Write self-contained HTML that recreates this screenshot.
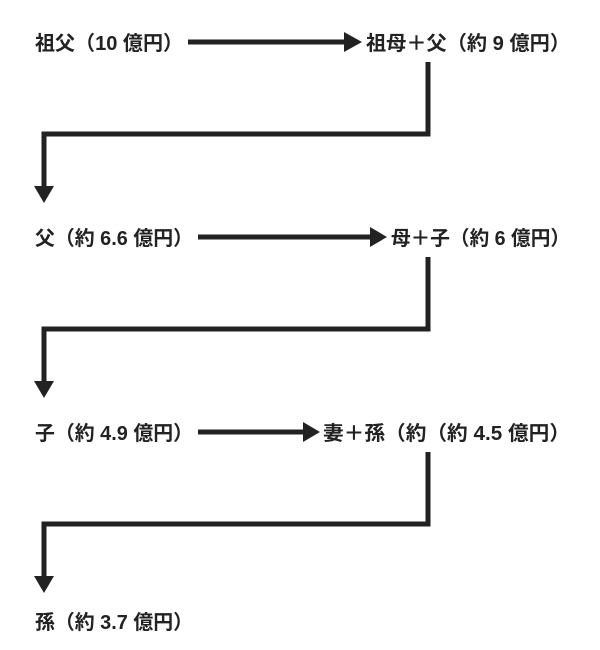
<!DOCTYPE html>
<html><head><meta charset="utf-8"><style>html,body{margin:0;padding:0;background:#fff}</style></head>
<body>
<svg width="600" height="645" viewBox="0 0 600 645" xmlns="http://www.w3.org/2000/svg">
<g font-family="'Liberation Sans','Noto Sans CJK JP',sans-serif" font-weight="bold" font-size="20" fill="#222">
<text x="35" y="50" textLength="148" lengthAdjust="spacingAndGlyphs">祖父（10 億円）</text>
<text x="366" y="50" textLength="204" lengthAdjust="spacingAndGlyphs">祖母＋父（約 9 億円）</text>
<text x="35" y="245" textLength="158" lengthAdjust="spacingAndGlyphs">父（約 6.6 億円）</text>
<text x="391" y="245" textLength="179" lengthAdjust="spacingAndGlyphs">母＋子（約 6 億円）</text>
<text x="35" y="440" textLength="158" lengthAdjust="spacingAndGlyphs">子（約 4.9 億円）</text>
<text x="323" y="440" textLength="247" lengthAdjust="spacingAndGlyphs">妻＋孫（約（約 4.5 億円）</text>
<text x="35" y="629" textLength="158" lengthAdjust="spacingAndGlyphs">孫（約 3.7 億円）</text>
</g>
<g fill="none" stroke="#222" stroke-width="5">
<line x1="188" y1="42" x2="346" y2="42"/>
<polyline points="428,62 428,134 44,134 44,188"/>
<line x1="198" y1="237" x2="372" y2="237"/>
<polyline points="428,257 428,329 44,329 44,383"/>
<line x1="198" y1="432" x2="305" y2="432"/>
<polyline points="428,452 428,524 44,524 44,578"/>
</g>
<g fill="#222">
<polygon points="344,32 362,42 344,52"/>
<polygon points="370,227 387,237 370,247"/>
<polygon points="303,422 320,432 303,442"/>
<polygon points="34,186 54,186 44,203"/>
<polygon points="34,381 54,381 44,398"/>
<polygon points="34,576 54,576 44,593"/>
</g>
</svg>
</body></html>
